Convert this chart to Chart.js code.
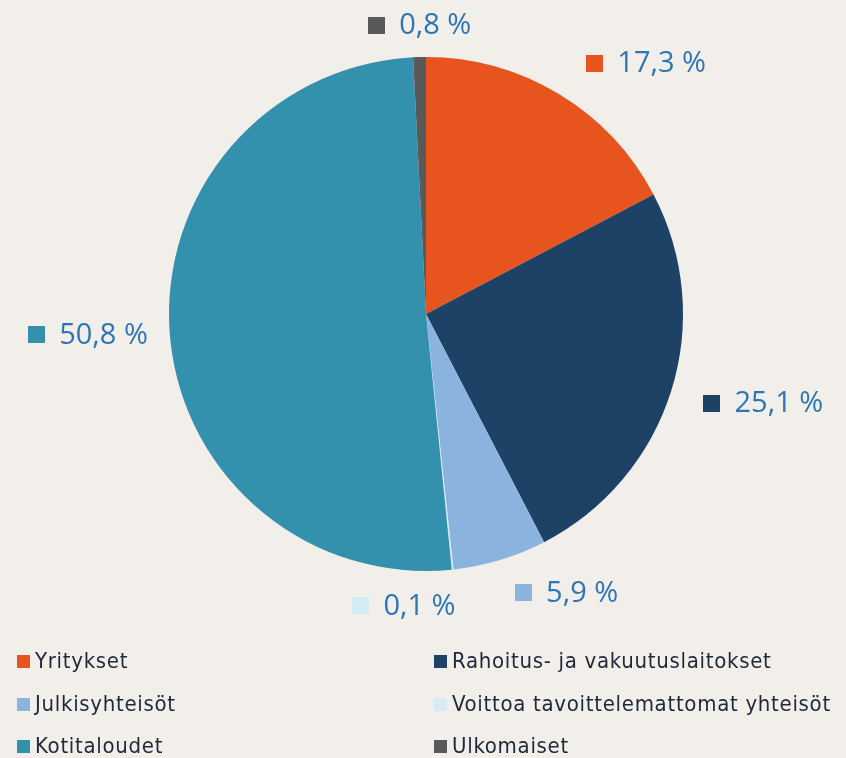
<!DOCTYPE html>
<html>
<head>
<meta charset="utf-8">
<script src="https://cdn.jsdelivr.net/npm/chart.js@4.4.1/dist/chart.umd.min.js"></script>
<style>
html,body{margin:0;padding:0;background:#F2EFEA;}
canvas{display:block;}
</style>
</head>
<body>
<canvas id="c" width="846" height="758"></canvas>
<script>
const categories = ['Yritykset', 'Rahoitus- ja vakuutuslaitokset', 'Julkisyhteisöt', 'Voittoa tavoittelemattomat yhteisöt', 'Kotitaloudet', 'Ulkomaiset'];
const values = [17.3, 25.1, 5.9, 0.1, 50.8, 0.8];
const colors = ['#E8541E', '#1D4266', '#8AB4DE', '#D5ECF4', '#3391AD', '#595959'];
const valueLabels = values.map(v => v.toFixed(1).replace('.', ',') + ' %');

const labelNudges = [[46,-1],[16,1.5],[46,-1],[-56,1.5],[-2,-1],[2,3]];

const LABEL_FONT = '29px "Open Sans", "DejaVu Sans", sans-serif';
const LEGEND_FONT = '22px "DejaVu Sans Condensed", "Liberation Sans Narrow", "Roboto Condensed", Roboto, sans-serif';

const outsideLabels = {
  id: 'outsideLabels',
  afterDatasetsDraw(chart) {
    const ctx = chart.ctx;
    const meta = chart.getDatasetMeta(0);
    ctx.save();
    ctx.font = LABEL_FONT;
    ctx.textBaseline = 'middle';
    ctx.textAlign = 'left';
    meta.data.forEach((arc, i) => {
      const p = arc.getProps(['x','y','startAngle','endAngle','outerRadius'], true);
      const mid = (p.startAngle + p.endAngle) / 2;
      const dx = Math.cos(mid), dy = Math.sin(mid);
      const R = p.outerRadius + 20;
      const ax = p.x + R * dx, ay = p.y + R * dy;
      const sq = 17, gap = 14, h = 30;
      const tw = ctx.measureText(valueLabels[i]).width;
      const w = sq + gap + tw;
      const cx = ax + (w / 2) * dx + labelNudges[i][0];
      const cy = ay + (h / 2) * dy + labelNudges[i][1];
      const left = cx - w / 2;
      ctx.fillStyle = colors[i];
      ctx.fillRect(Math.round(left), Math.round(cy - sq / 2), sq, sq);
      ctx.fillStyle = '#2E75B6';
      ctx.fillText(valueLabels[i], left + sq + gap, cy + 1);
    });
    ctx.restore();
  }
};

const bottomLegend = {
  id: 'bottomLegend',
  afterDraw(chart) {
    const ctx = chart.ctx;
    ctx.save();
    ctx.font = LEGEND_FONT;
    if ('letterSpacing' in ctx) ctx.letterSpacing = '0.7px';
    ctx.textBaseline = 'middle';
    ctx.textAlign = 'left';
    const colX = [17, 434];
    const rowY = [661, 704, 746];
    categories.forEach((name, i) => {
      const x = colX[i % 2];
      const y = rowY[Math.floor(i / 2)];
      ctx.fillStyle = colors[i];
      ctx.fillRect(x, y - 6, 13, 13);
      ctx.fillStyle = '#1E2838';
      ctx.fillText(name, x + 18, y + 1);
    });
    ctx.restore();
  }
};

new Chart(document.getElementById('c'), {
  type: 'pie',
  data: {
    labels: categories,
    datasets: [{
      data: values,
      backgroundColor: colors,
      borderWidth: 0
    }]
  },
  options: {
    responsive: false,
    animation: false,
    devicePixelRatio: 1,
    layout: { padding: { top: 57, bottom: 187, left: 169, right: 163 } },
    plugins: {
      legend: { display: false },
      tooltip: { enabled: false }
    }
  },
  plugins: [outsideLabels, bottomLegend]
});
</script>
</body>
</html>
